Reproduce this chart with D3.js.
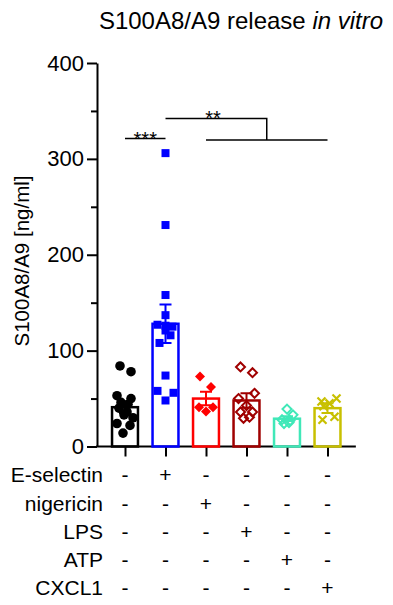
<!DOCTYPE html>
<html><head><meta charset="utf-8">
<script src="https://cdn.jsdelivr.net/npm/d3@7"></script>
<style>body{margin:0;background:#fff}svg{display:block}text{font-family:"Liberation Sans",Arial,sans-serif}</style>
</head><body><svg id="c" width="393" height="605"></svg>
<script>
const groups = ["ctrl","E-selectin","nigericin","LPS","ATP","CXCL1"];
const colors = ["#000000","#0000ff","#ff0000","#a00000","#40e8b8","#c8c000"];
const means = [41, 128, 50, 48, 29, 40];
const sems = [6, 20, 7, 7.5, 2.5, 5];
const points = [
  [84, 78, 53, 50, 46, 44, 40, 36, 33, 30, 24, 22, 14],
  [306, 231, 158, 137, 127, 126, 125, 121, 116, 108, 74, 58, 56, 48],
  [73, 62, 41, 36.5, 41],
  [83, 77, 55.5, 50, 42.7, 36, 36, 29.5, 30.6],
  [39, 33, 28, 27, 24, 25],
  [50, 47, 45, 42, 31, 28]
];
const markerKind = ["circle","square","diamondFilled","diamondOpen","diamondOpen","cross"];
const rowLabels = ["E-selectin","nigericin","LPS","ATP","CXCL1"];
const plusColumn = [1, 2, 3, 4, 5];
const yTicks = [0, 100, 200, 300, 400];
const yMinor = [50, 150, 250, 350];

const svg = d3.select("#c");
const y = d3.scaleLinear().domain([0, 400]).range([446.5, 63]);
const x = d3.scalePoint().domain(groups).range([125, 327.5]);
const bw = x.step() * 0.64;
const axisX = 97;

// y axis
const gy = svg.append("g").attr("transform", `translate(${axisX},0)`)
  .call(d3.axisLeft(y).tickValues(yTicks).tickSize(10).tickSizeOuter(0).tickPadding(3));
gy.selectAll("text").attr("font-size", 22).attr("fill", "#000");
gy.select(".domain").attr("stroke-width", 2);
gy.selectAll(".tick line").attr("stroke-width", 2);
svg.append("g").attr("transform", `translate(${axisX},0)`)
  .call(d3.axisLeft(y).tickValues(yMinor).tickSize(6).tickSizeOuter(0).tickFormat(""))
  .call(g => { g.select(".domain").remove(); g.selectAll("line").attr("stroke-width", 2); });

// x axis
const gx = svg.append("g").attr("transform", `translate(0,${y(0)})`)
  .call(d3.axisBottom(x).tickSize(10).tickSizeOuter(0).tickFormat(""));
gx.select(".domain").remove();
gx.selectAll(".tick line").attr("stroke-width", 2);
svg.append("line").attr("x1", axisX - 1).attr("x2", x(groups[5]) + x.step() * 0.7)
  .attr("y1", y(0)).attr("y2", y(0)).attr("stroke", "#000").attr("stroke-width", 2);

// bars
svg.append("g").selectAll("rect").data(groups).join("rect")
  .attr("x", d => x(d) - bw / 2).attr("width", bw)
  .attr("y", (d, i) => y(means[i])).attr("height", (d, i) => y(0) - y(means[i]))
  .attr("fill", "none").attr("stroke", (d, i) => colors[i]).attr("stroke-width", 2.5);

// points
const jitterOffsets = [
  [-5, 6, -8, 6, -4, 3, -6, 2, -1, 8, -8, 5, -2],
  [0, 0, 0, 0, -8, 0, 7, 0, 5, -6, 0, -8, 8, 0],
  [-6, 5, -7, 0, 7],
  [-6, 6, 8, -8, 0, -6, 6, -3, 3],
  [0, 6, -5, 3, -3, 2],
  [9, -6, 2, -4, 7, -5]
];
const gp = svg.append("g");
points.forEach((vals, i) => {
  const cx = x(groups[i]);
  vals.forEach((v, j) => {
    const px = cx + jitterOffsets[i][j], py = y(v);
    const k = markerKind[i], c = colors[i];
    if (k === "circle") gp.append("circle").attr("cx", px).attr("cy", py).attr("r", 4.8).attr("fill", c);
    else if (k === "square") gp.append("rect").attr("x", px - 4).attr("y", py - 4).attr("width", 8).attr("height", 8).attr("fill", c);
    else if (k === "diamondFilled") gp.append("path").attr("d", `M${px},${py-5}L${px+5},${py}L${px},${py+5}L${px-5},${py}Z`).attr("fill", c);
    else if (k === "diamondOpen") gp.append("path").attr("d", `M${px},${py-4.5}L${px+4.5},${py}L${px},${py+4.5}L${px-4.5},${py}Z`).attr("fill", "none").attr("stroke", c).attr("stroke-width", 2);
    else gp.append("path").attr("d", `M${px-4},${py-4}L${px+4},${py+4}M${px-4},${py+4}L${px+4},${py-4}`).attr("stroke", c).attr("stroke-width", 2.2);
  });
});

// error bars
const ge = svg.append("g");
groups.forEach((g, i) => {
  const cx = x(g), c = colors[i], w = 6;
  const hi = y(means[i] + sems[i]), lo = y(means[i] - sems[i]);
  ge.append("path").attr("d", `M${cx},${lo}L${cx},${hi}M${cx-w},${hi}L${cx+w},${hi}M${cx-w},${lo}L${cx+w},${lo}`)
    .attr("stroke", c).attr("stroke-width", 2).attr("fill", "none");
});

// significance
const sig = svg.append("g").attr("stroke", "#000").attr("stroke-width", 1.5).attr("fill", "none");
sig.append("path").attr("d", `M${x(groups[0])},138.5H${x(groups[1])}`);
const midX = (x(groups[3]) + x(groups[4])) / 2;
sig.append("path").attr("d", `M${x(groups[1])},118.5H${midX}V140`);
sig.append("path").attr("d", `M${x(groups[2])},140H${x(groups[5])}`);
svg.append("text").attr("x", (x(groups[0]) + x(groups[1])) / 2).attr("y", 145.5).attr("text-anchor", "middle")
  .attr("font-size", 20).text("***");
svg.append("text").attr("x", 213).attr("y", 125).attr("text-anchor", "middle")
  .attr("font-size", 20).text("**");

// y label
svg.append("text").attr("transform", "translate(29,261) rotate(-90)").attr("text-anchor", "middle")
  .attr("font-size", 20.5).text("S100A8/A9 [ng/ml]");

// title
const title = svg.append("text").attr("x", 241).attr("y", 29).attr("text-anchor", "middle").attr("font-size", 24);
title.append("tspan").text("S100A8/A9 release ");
title.append("tspan").attr("font-style", "italic").text("in vitro");

// treatment table
const rowY = d3.scalePoint().domain(rowLabels).range([475, 588]);
const gt = svg.append("g");
rowLabels.forEach((r, ri) => {
  gt.append("text").attr("x", 103).attr("y", rowY(r)).attr("dy", "0.35em").attr("text-anchor", "end")
    .attr("font-size", 21).text(r);
  groups.forEach((g, ci) => {
    gt.append("text").attr("x", x(g)).attr("y", rowY(r)).attr("dy", "0.35em").attr("text-anchor", "middle")
      .attr("font-size", 21).text(plusColumn[ri] === ci ? "+" : "-");
  });
});
</script></body></html>
